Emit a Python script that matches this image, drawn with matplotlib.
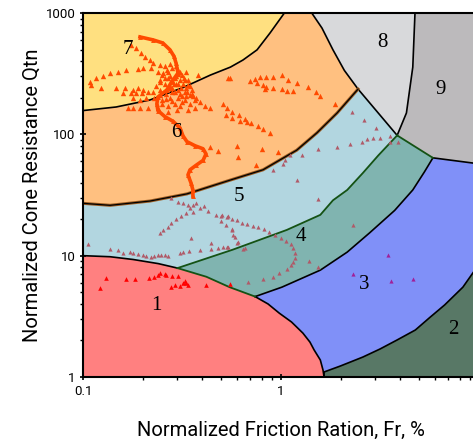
import numpy as np
import matplotlib
matplotlib.use('Agg')
import matplotlib.pyplot as plt
from matplotlib.ticker import FixedLocator, LogLocator, NullFormatter

# zone boundaries (Fr %, Qtn)
b15_fr = [0.1, 0.137, 0.179, 0.24, 0.30]
b15_q = [10, 9.8, 9.3, 8.6, 7.9]
b14_fr = [0.30, 0.42, 0.55, 0.74]
b14_q = [7.9, 6.7, 5.5, 4.6]
b13_fr = [0.74, 0.86, 0.98, 1.13, 1.29, 1.40, 1.47, 1.58, 1.63, 1.65]
b13_q = [4.6, 4.0, 3.36, 2.84, 2.3, 1.94, 1.67, 1.38, 1.14, 1.0]
b45_fr = [0.30, 0.57, 1.07, 1.58, 1.83, 2.16, 2.59, 3.1, 3.86]
b45_q = [7.9, 11.2, 16.3, 21.7, 28.6, 34.8, 48, 67, 98]
b34_fr = [0.74, 1.01, 1.58, 2.16, 2.8, 3.75, 4.63, 5.3, 5.85]
b34_q = [4.6, 5.5, 7.6, 10.7, 15.4, 23.6, 34.8, 49, 64]
b49_fr = [3.86, 5.85]
b49_q = [98, 64]
b39_fr = [5.85, 9.31, 10]
b39_q = [64, 58, 57]
b23_fr = [1.65, 1.65, 1.99, 2.59, 3.16, 3.86, 4.77, 5.65, 6.7, 8.29, 9.31, 10]
b23_q = [1.0, 1.1, 1.23, 1.46, 1.70, 2.02, 2.44, 3.1, 3.92, 5.5, 7.2, 8.5]
b56_fr = [0.1, 0.137, 0.218, 0.335, 0.555, 0.811, 1.20, 1.52, 1.92, 2.45]
b56_q = [27, 26, 28.2, 32.3, 42, 51, 74, 103, 150, 236]
b58_fr = [2.45, 3.86]
b58_q = [236, 98]
b68_fr = [1.43, 1.61, 1.83, 2.09, 2.45]
b68_q = [1000, 752, 497, 336, 236]
b67_fr = [0.1, 0.147, 0.218, 0.32, 0.44, 0.555, 0.643, 0.757, 0.88, 1.04]
b67_q = [157, 168, 192, 243, 308, 358, 410, 497, 684, 1000]
b89_fr = [4.75, 4.63, 4.3, 3.86]
b89_q = [1000, 358, 150, 98]

zone_colors = ['#FF8080', '#587866', '#8090F8', '#80B4B0', '#B2D6E0',
               '#FFC080', '#FFE080', '#D8D9DB', '#BCBABC']
zone_labels = ['1', '2', '3', '4', '5', '6', '7', '8', '9']
label_fr = [0.234, 7.4, 2.63, 1.26, 0.61, 0.295, 0.169, 3.27, 6.4]
label_q = [3.85, 2.44, 5.75, 14.5, 31, 103, 497, 566, 232]

# dense orange trace (zones 5-6-7)
trace_fr = [0.359, 0.359, 0.351, 0.339, 0.347, 0.372, 0.404, 0.418, 0.404, 0.368,
            0.335, 0.320, 0.309, 0.285, 0.259, 0.239, 0.236, 0.239, 0.265, 0.28,
            0.302, 0.295, 0.288, 0.275, 0.253, 0.226, 0.194]
trace_q = [31, 34.8, 39.8, 46.3, 51, 55.5, 61, 69, 76, 80.5,
           87, 97, 113, 128, 140, 157, 178, 203, 232, 270,
           320, 387, 440, 497, 566, 600, 635]

# scattered orange points (zones 6 and 7)
orange_fr = [0.174, 0.185, 0.196, 0.206, 0.218, 0.226, 0.245,
             0.239, 0.251, 0.259, 0.269, 0.275, 0.281, 0.291, 0.302, 0.309, 0.295,
             0.275, 0.259, 0.245, 0.320, 0.331, 0.347, 0.327, 0.302, 0.281, 0.262,
             0.245, 0.229, 0.251, 0.275, 0.302, 0.331, 0.355, 0.372, 0.390, 0.347,
             0.316, 0.291, 0.269, 0.251, 0.239, 0.413, 0.438, 0.368, 0.339, 0.298,
             0.269,
             0.265, 0.281, 0.302, 0.316, 0.327, 0.339, 0.355, 0.359, 0.275, 0.291,
             0.309, 0.288, 0.269, 0.253, 0.245, 0.295, 0.313, 0.335,
             0.259, 0.275, 0.295, 0.309, 0.324, 0.339, 0.347, 0.368, 0.327, 0.309,
             0.281, 0.262, 0.245, 0.234, 0.331, 0.302, 0.281, 0.316,
             0.108, 0.116, 0.126, 0.137, 0.150, 0.165, 0.190, 0.201, 0.22,
             0.110, 0.123, 0.147, 0.163, 0.179, 0.19, 0.201, 0.159, 0.175, 0.186,
             0.199, 0.213, 0.226, 0.179, 0.194, 0.208,
             0.169, 0.179, 0.194, 0.213,
             0.509, 0.536, 0.564, 0.611, 0.656, 0.709, 0.766, 0.811, 0.885,
             0.525, 0.564, 0.619, 0.674,
             0.540, 0.697, 0.739, 0.782, 0.842, 0.911, 1.01, 1.08, 1.20, 1.37,
             1.50, 1.58, 1.87, 0.811, 0.842, 0.911, 1.01, 1.07, 1.15, 0.757, 0.826,
             0.381, 0.555, 0.438, 0.481, 0.599, 0.607, 0.75, 0.80, 0.97]
orange_q = [545, 515, 468, 435, 410, 387, 372,
            327, 308, 291, 327, 302, 280, 291, 314, 280, 260,
            251, 260, 270, 260, 241, 251, 223, 232, 223, 215,
            211, 199, 192, 199, 199, 207, 215, 199, 185, 178,
            185, 178, 172, 178, 165, 172, 165, 165, 158, 158,
            153,
            340, 352, 340, 308, 280, 256, 232, 207, 241, 223,
            215, 260, 291, 320, 280, 302, 241, 223,
            366, 380, 366, 327, 291, 280, 211, 192, 192, 172,
            188, 195, 232, 251, 327, 260, 241, 207,
            270, 291, 302, 320, 327, 340, 346, 352, 352,
            256, 241, 241, 241, 232, 241, 232, 219, 219, 219,
            219, 223, 223, 199, 192, 199,
            165, 165, 165, 165,
            178, 165, 153, 143, 133, 124, 118, 110, 102,
            143, 136, 129, 126,
            291, 274, 285, 296, 296, 296, 308, 280, 265, 246,
            223, 207, 178, 256, 246, 241, 237, 228, 228, 265, 237,
            308, 291, 79, 73, 80, 65, 56, 76, 72]

# mauve points (zones 4 and 5)
mauve_fr = [0.106, 0.137, 0.150, 0.159, 0.173, 0.179, 0.190, 0.201, 0.208, 0.220,
            0.229, 0.239, 0.247, 0.259, 0.269, 0.309, 0.320, 0.343, 0.390, 0.443,
            0.481, 0.509, 0.540,
            0.443, 0.351, 0.245, 0.253, 0.269, 0.278, 0.295, 0.313, 0.331, 0.347,
            0.359, 0.372, 0.390, 0.409, 0.359, 0.339, 0.428, 0.467, 0.503, 0.540,
            0.496, 0.529, 0.564, 0.278, 0.302, 0.320,
            0.496, 0.533, 0.564, 0.599, 0.636, 0.674, 0.722, 0.766, 0.821, 0.874,
            0.933, 1.0, 1.06, 1.12, 1.15, 1.18, 1.18, 1.15, 1.12, 1.07,
            0.98, 0.911, 0.811, 0.681, 1.39, 1.53, 2.31, 0.643, 0.599, 0.572,
            0.564, 0.584, 0.607, 0.533, 0.656,
            0.911, 1.02, 1.05, 1.11, 1.27, 1.54, 1.91, 2.24, 2.57, 2.72,
            2.90, 3.18, 3.54, 3.54, 3.90, 2.28, 2.63, 3.03, 1.20, 1.54]
mauve_q = [12.4, 11.4, 11.2, 10.5, 10.7, 10.5, 10.4, 10.2, 10.0, 9.8,
           10.0, 10.2, 10.2, 10.2, 10.0, 10.5, 10.7, 11.0, 11.2, 11.4,
           11.6, 11.8, 11.8,
           12.7, 14.0, 15.4, 16.3, 17.3, 18.6, 20.1, 21.2, 22.5, 24.8,
           26.1, 27.2, 24.8, 25.8, 22.9, 26.1, 23.4, 21.7, 21.7, 21.3,
           19.3, 17.9, 16.6, 29.9, 27.7, 27.2,
           21.3, 20.9, 20.1, 19.7, 18.6, 18.3, 17.6, 17.3, 16.6, 15.6,
           14.8, 14.0, 13.2, 12.5, 11.6, 10.5, 9.6, 8.9, 8.4, 7.8,
           7.2, 6.7, 6.4, 6.1, 9.0, 8.1, 17.9, 11.4, 12.7, 14.8,
           16.3, 14.3, 13.0, 11.8, 11.6,
           51, 57, 62, 68, 68, 75, 79, 83, 86, 91,
           93.5, 93.5, 97, 86, 86, 154, 131, 113, 42, 29.5]

# red points (zone 1)
red_fr = [0.122, 0.131, 0.165, 0.183, 0.215, 0.228, 0.239, 0.245, 0.259, 0.262,
          0.281, 0.302, 0.278, 0.291, 0.309, 0.320, 0.327, 0.331, 0.339, 0.418, 0.55]
red_q = [5.4, 6.55, 6.4, 6.4, 6.55, 6.7, 6.9, 7.2, 7.05, 6.9,
         6.8, 6.8, 5.5, 5.7, 5.6, 5.95, 6.2, 5.95, 5.7, 5.7, 5.8]

# purple points (zone 3)
purple_fr = [3.47, 2.31, 3.6, 4.63]
purple_q = [10.2, 7.05, 6.2, 6.4]


def cat(*parts):
    fr = np.concatenate([np.asarray(p[0], float) for p in parts])
    q = np.concatenate([np.asarray(p[1], float) for p in parts])
    return fr, q


def rev(fr, q):
    return fr[::-1], q[::-1]


zones = [
    cat(([0.1], [1]), (b15_fr, b15_q), (b14_fr, b14_q), (b13_fr, b13_q)),
    cat((b23_fr, b23_q), ([10], [1])),
    cat((b13_fr, b13_q), (b23_fr, b23_q), ([10], [57]), rev(b39_fr, b39_q), rev(b34_fr, b34_q)),
    cat((b45_fr, b45_q), (b49_fr, b49_q), rev(b34_fr, b34_q), rev(b14_fr, b14_q)),
    cat((b56_fr, b56_q), (b58_fr, b58_q), rev(b45_fr, b45_q), rev(b15_fr, b15_q)),
    cat((b67_fr, b67_q), (b68_fr, b68_q), rev(b56_fr, b56_q)),
    cat((b67_fr, b67_q), ([0.1], [1000])),
    cat((b68_fr, b68_q), (b58_fr, b58_q), rev(b89_fr, b89_q)),
    cat((b89_fr, b89_q), (b49_fr, b49_q), (b39_fr, b39_q), ([10], [1000])),
]

fig = plt.figure(figsize=(4.73, 4.48), dpi=100)
ax = fig.add_axes([83 / 473, 71 / 448, 396 / 473, 364 / 448])
ax.set_xscale('log')
ax.set_yscale('log')
ax.set_xlim(0.1, 10)
ax.set_ylim(1, 1000)

for (fr, q), c in zip(zones, zone_colors):
    ax.fill(fr, q, color=c, lw=0, zorder=1)

black_lines = [(b15_fr, b15_q), (b13_fr, b13_q), (b34_fr, b34_q), (b39_fr, b39_q),
               (b23_fr, b23_q), (b58_fr, b58_q), (b68_fr, b68_q), (b67_fr, b67_q),
               (b89_fr, b89_q)]
for fr, q in black_lines:
    ax.plot(fr, q, color='black', lw=1.2, zorder=2)
for fr, q in [(b14_fr, b14_q), (b45_fr, b45_q), (b49_fr, b49_q)]:
    ax.plot(fr, q, color='#145214', lw=1.3, zorder=2)
ax.plot(b56_fr, b56_q, color='#9a5a20', lw=2.2, zorder=2)
ax.plot(b56_fr, b56_q, color='black', lw=0.9, zorder=2)

for t, x, y in zip(zone_labels, label_fr, label_q):
    ax.text(x, y, t, fontsize=15, family='Liberation Serif', ha='center', va='center', zorder=4)

ax.scatter(mauve_fr, mauve_q, marker='^', s=9, color='#B05A68', lw=0, zorder=3)
ax.scatter(red_fr, red_q, marker='^', s=11, color='#FF0000', lw=0, zorder=3)
ax.scatter(purple_fr, purple_q, marker='^', s=9, color='#A0209A', lw=0, zorder=3)
ax.scatter(orange_fr, orange_q, marker='^', s=15, color='#FF4A00', lw=0, zorder=3)
ax.plot(trace_fr, trace_q, '-^', color='#FF4A00', lw=2.6, ms=3.5, mew=0, zorder=3)

ax.xaxis.set_major_locator(FixedLocator([0.1, 1]))
ax.set_xticklabels(['0.1', '1'])
ax.yaxis.set_major_locator(FixedLocator([1, 10, 100, 1000]))
ax.set_yticklabels(['1', '10', '100', '1000'])
ax.xaxis.set_minor_locator(LogLocator(subs=np.arange(2, 10)))
ax.yaxis.set_minor_locator(LogLocator(subs=np.arange(2, 10)))
ax.xaxis.set_minor_formatter(NullFormatter())
ax.yaxis.set_minor_formatter(NullFormatter())
ax.tick_params(which='major', length=4, width=1.2, labelsize=9.5, direction='inout')
ax.tick_params(which='minor', length=2.5, width=1, direction='out')
for lbl in ax.get_xticklabels() + ax.get_yticklabels():
    lbl.set_family('Roboto')

for s in ['left', 'bottom', 'top']:
    ax.spines[s].set_linewidth(1.5)
ax.spines['right'].set_visible(False)

ax.set_ylabel('Normalized Cone Resistance Qtn', family='Roboto', fontsize=14.5, labelpad=3)
ax.set_xlabel('Normalized Friction Ration, Fr, %', family='Roboto', fontsize=14.5, labelpad=17)

fig.savefig('out.png', dpi=100)
